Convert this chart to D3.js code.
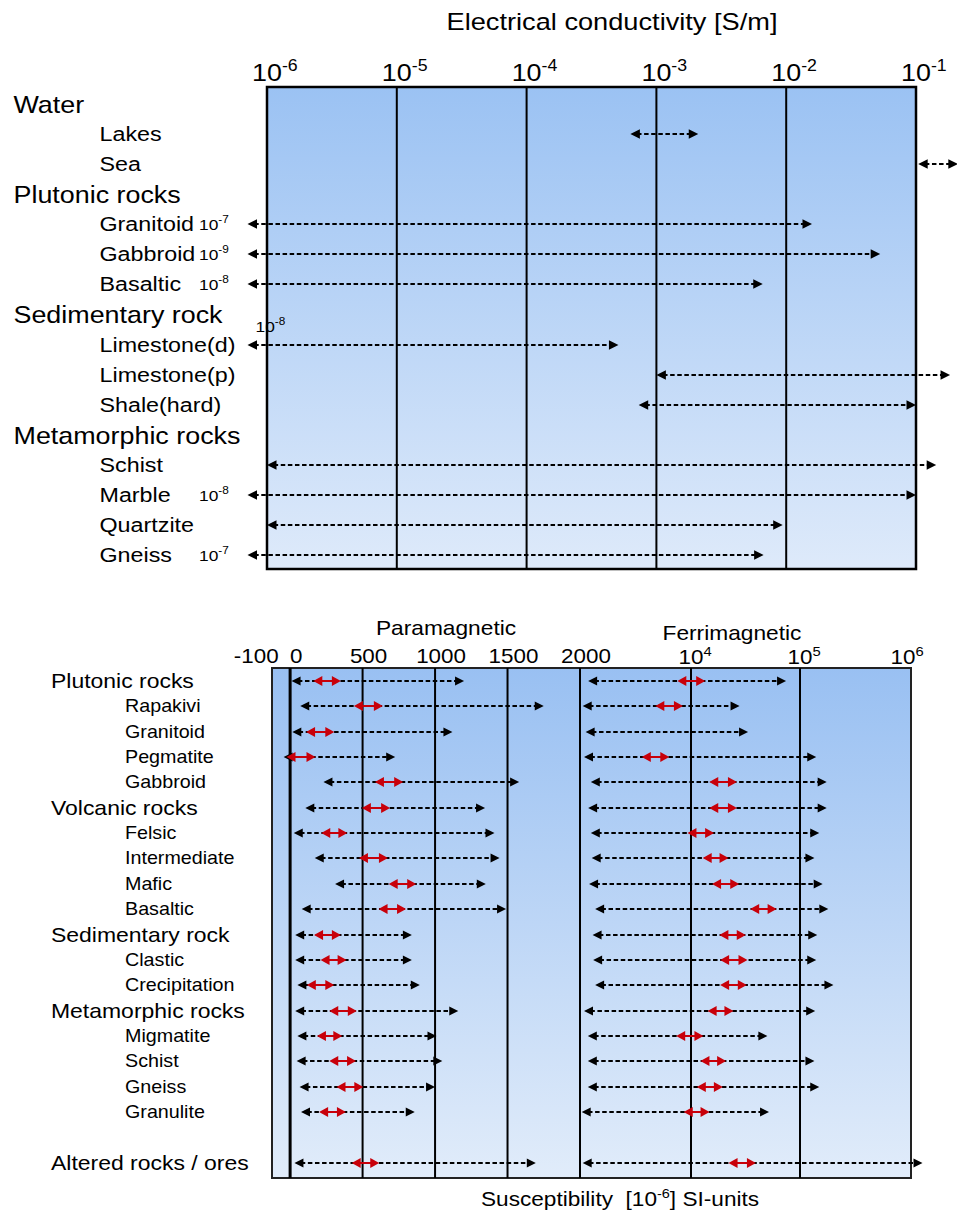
<!DOCTYPE html>
<html>
<head>
<meta charset="utf-8">
<script src="https://cdn.jsdelivr.net/npm/d3@7"></script>
<style>
  html, body { margin: 0; padding: 0; background: #fff; }
  svg { display: block; }
  text { font-family: "Liberation Sans", Arial, sans-serif; fill: #000; }
</style>
</head>
<body>
<svg id="chart" width="957" height="1213"></svg>
<script>
// ---------- Electrical conductivity [S/m] ----------
const condRows = ["Water", "Lakes", "Sea", "Plutonic rocks", "Granitoid", "Gabbroid", "Basaltic",
  "Sedimentary rock", "Limestone(d)", "Limestone(p)", "Shale(hard)", "Metamorphic rocks",
  "Schist", "Marble", "Quartzite", "Gneiss"];
const condHeaders = ["Water", "Plutonic rocks", "Sedimentary rock", "Metamorphic rocks"];
const condLow  = [null, 6.3e-4, 0.104, null, 1e-7, 1e-9, 1e-8, null, 1e-8, 1.0e-3, 7.3e-4, null, 1e-6, 1e-8, 1e-6, 1e-7];
const condHigh = [null, 2.1e-3, 0.21,  null, 0.0158, 0.053, 0.0066, null, 5.1e-4, 0.183, 0.1, null, 0.143, 0.1, 0.0094, 0.0067];
const condTickExp = [-6, -5, -4, -3, -2, -1];

// ---------- Magnetic susceptibility [10^-6 SI] ----------
const suscRows = ["Plutonic rocks", "Rapakivi", "Granitoid", "Pegmatite", "Gabbroid",
  "Volcanic rocks", "Felsic", "Intermediate", "Mafic", "Basaltic",
  "Sedimentary rock", "Clastic", "Crecipitation",
  "Metamorphic rocks", "Migmatite", "Schist", "Gneiss", "Granulite",
  "", "Altered rocks / ores"];
const suscHeaders = ["Plutonic rocks", "Volcanic rocks", "Sedimentary rock", "Metamorphic rocks", "Altered rocks / ores"];
// paramagnetic range (black) and typical range (red)
const paraLow      = [10, 70, 15, -45, 230, 105, 25, 170, 310, 80, 35, 35, 50, 35, 50, 45, 65, 75, null, 30];
const paraHigh     = [1200, 1750, 1120, 725, 1580, 1345, 1410, 1445, 1350, 1490, 840, 840, 895, 1160, 1010, 1050, 1000, 860, null, 1695];
const paraCoreLow  = [160, 440, 110, -25, 585, 495, 215, 475, 680, 610, 165, 210, 115, 270, 185, 270, 320, 200, null, 425];
const paraCoreHigh = [350, 640, 305, 175, 780, 690, 395, 675, 870, 800, 350, 390, 305, 460, 360, 455, 505, 385, null, 615];
// ferrimagnetic range (black) and typical range (red)
const ferriLow      = [2250, 2080, 2170, 2120, 2340, 2250, 2340, 2370, 2280, 2490, 2400, 2420, 2490, 2120, 2240, 2240, 2240, 2050, null, 2080];
const ferriHigh     = [74500, 27900, 33400, 140000, 174000, 174000, 149000, 135000, 160000, 180000, 143000, 140000, 200000, 137000, 50200, 135000, 149000, 52000, null, 1270000];
const ferriCoreLow  = [8200, 5960, null, 4900, 14700, 14700, 9500, 12800, 15600, 34900, 18200, 18500, 18500, 14200, 8070, 12200, 11300, 9000, null, 22100];
const ferriCoreHigh = [13500, 8900, null, 7300, 26400, 26400, 16300, 22100, 27700, 61000, 31800, 33000, 32500, 24500, 13000, 21000, 19600, 14800, null, 39400];
const linTicks = [-100, 0, 500, 1000, 1500, 2000];
const powTickExp = [4, 5, 6];

// ---------- drawing ----------
const SX = 1.12;            // horizontal text stretch
const svg = d3.select("#chart");
const defs = svg.append("defs");

function gradient(id, c0, c1) {
  const g = defs.append("linearGradient").attr("id", id)
    .attr("x1", 0).attr("y1", 0).attr("x2", 0).attr("y2", 1);
  g.append("stop").attr("offset", 0).attr("stop-color", c0);
  g.append("stop").attr("offset", 1).attr("stop-color", c1);
}
gradient("bgTop", "#9BC2F3", "#DEEAFA");
gradient("bgBot", "#99C0F2", "#E1ECFA");

// rich text: segments [{t, sup}]
function rich(g, x, y, segs, size, anchor, supScale) {
  const ss = supScale || 0.64;
  const t = g.append("text")
    .attr("transform", `translate(${x},${y}) scale(${SX},1)`)
    .attr("font-size", size)
    .attr("text-anchor", anchor || "start")
    .attr("xml:space", "preserve");
  let raised = false;
  segs.forEach(s => {
    const sp = t.append("tspan").text(s.t);
    if (s.sup && !raised) { sp.attr("font-size", size * ss).attr("dy", -size * 0.42); raised = true; }
    else if (!s.sup && raised) { sp.attr("dy", size * 0.42); raised = false; }
    else if (s.sup) sp.attr("font-size", size * ss);
  });
  return t;
}
function label(g, x, y, str, size, anchor) { return rich(g, x, y, [{ t: str }], size, anchor); }

// power of ten label with the "10" centred on x
function pow10(g, x, y, exp, size) {
  const baseW = 1.112 * size * SX;
  return rich(g, x - baseW / 2, y, [{ t: "10" }, { t: String(exp), sup: true }], size, "start", 0.66);
}

function arrow(g, x1, x2, y, color, dashed, len, w) {
  g.append("line")
    .attr("x1", x1 + len * 0.7).attr("x2", x2 - len * 0.7)
    .attr("y1", y).attr("y2", y)
    .attr("stroke", color).attr("stroke-width", 2)
    .attr("stroke-dasharray", dashed ? "4.5,2.6" : null);
  g.append("path").attr("d", `M${x1},${y}L${x1 + len},${y - w / 2}L${x1 + len},${y + w / 2}Z`).attr("fill", color);
  g.append("path").attr("d", `M${x2},${y}L${x2 - len},${y - w / 2}L${x2 - len},${y + w / 2}Z`).attr("fill", color);
}

// ===== Conductivity panel =====
const gTop = svg.append("g");
const xC = d3.scaleLog().domain([1e-6, 1e-1]).range([267, 916]);
const yC = d3.scaleLinear().domain([0, condRows.length - 1]).range([104, 555]);
const condFloor = Math.pow(10, -6.15);
const boxT = { y0: 87, y1: 569 };

label(gTop, 612, 30, "Electrical conductivity [S/m]", 24.3, "middle");

gTop.append("rect")
  .attr("x", xC(1e-6)).attr("y", boxT.y0)
  .attr("width", xC(1e-1) - xC(1e-6)).attr("height", boxT.y1 - boxT.y0)
  .attr("fill", "url(#bgTop)").attr("stroke", "#000").attr("stroke-width", 2.5);

condTickExp.forEach(e => {
  const x = xC(Math.pow(10, e));
  if (e > -6 && e < -1) {
    gTop.append("line").attr("x1", x).attr("x2", x).attr("y1", boxT.y0).attr("y2", boxT.y1)
      .attr("stroke", "#000").attr("stroke-width", 2);
  }
  pow10(gTop, x, 81, e, 24);
});

condRows.forEach((name, i) => {
  const y = Math.round(yC(i));
  const isHead = condHeaders.includes(name);
  const size = isHead ? 24 : 20.8;
  const lx = isHead ? 13.5 : 99.5;
  const t = label(gTop, lx, y + size * 0.36, name, size);
  if (condLow[i] == null) return;
  const lo = condLow[i], hi = condHigh[i];
  const x1 = xC(Math.max(lo, condFloor)), x2 = xC(hi);
  arrow(gTop, x1, x2, y, "#000", true, 9.5, 9.5);
  if (lo < 1e-6) {
    const exp = Math.round(Math.log10(lo));
    const textEnd = lx + t.node().getComputedTextLength() * SX;
    const segs = [{ t: "10" }, { t: String(exp), sup: true }];
    if (textEnd > 215) rich(gTop, x1 + 8, y - 13, segs, 15.5, "start", 0.68);
    else rich(gTop, 199, y + 6, segs, 15.5, "start", 0.68);
  }
});

// ===== Susceptibility panel =====
const gBot = svg.append("g");
const xLin = d3.scaleLinear().domain([-125, 2000]).range([272, 580]);
const xLogPart = d3.scaleLinear().domain([Math.log10(2000), 4, 5, 6]).range([580, 691, 800, 911]);
const xS = v => (v <= 2000 ? xLin(v) : xLogPart(Math.log10(v)));
const yS = d3.scaleLinear().domain([0, suscRows.length - 1]).range([681, 1162.7]);
const boxB = { y0: 668, y1: 1178 };

label(gBot, 446, 635, "Paramagnetic", 20.3, "middle");
label(gBot, 732, 640, "Ferrimagnetic", 20.3, "middle");

gBot.append("rect")
  .attr("x", xLin(-125)).attr("y", boxB.y0)
  .attr("width", xS(1e6) - xLin(-125)).attr("height", boxB.y1 - boxB.y0)
  .attr("fill", "url(#bgBot)").attr("stroke", "#222").attr("stroke-width", 2);

[0, 500, 1000, 1500, 2000, 1e4, 1e5].forEach(v => {
  const x = xS(v);
  gBot.append("line").attr("x1", x).attr("x2", x).attr("y1", boxB.y0).attr("y2", boxB.y1)
    .attr("stroke", "#000").attr("stroke-width", v === 0 ? 3 : 2);
});

linTicks.forEach(v => {
  if (v < 0) label(gBot, xS(v) + 3, 663, String(v), 20, "end");
  else label(gBot, xS(v) + 6, 663, String(v), 20, "middle");
});
powTickExp.forEach(e => {
  const v = Math.pow(10, e);
  pow10(gBot, xS(v) + (e === 6 ? -8 : 0), 664, e, 20);
});

rich(gBot, 481, 1206, [{ t: "Susceptibility\u00A0\u00A0[10" }, { t: "-6", sup: true }, { t: "] SI-units" }], 20.2, "start");

suscRows.forEach((name, i) => {
  if (!name) return;
  const y = Math.round(yS(i));
  const isHead = suscHeaders.includes(name);
  const size = isHead ? 20.5 : 17.6;
  label(gBot, isHead ? 51 : 125, y + size * 0.36, name, size);
  if (paraLow[i] != null) arrow(gBot, xS(paraLow[i]), xS(paraHigh[i]), y, "#000", true, 9, 9);
  if (ferriLow[i] != null) arrow(gBot, xS(ferriLow[i]), xS(ferriHigh[i]), y, "#000", true, 9, 9);
  if (paraCoreLow[i] != null) arrow(gBot, xS(paraCoreLow[i]), xS(paraCoreHigh[i]), y, "#C8000A", false, 9, 10);
  if (ferriCoreLow[i] != null) arrow(gBot, xS(ferriCoreLow[i]), xS(ferriCoreHigh[i]), y, "#C8000A", false, 9, 10);
});
</script>
</body>
</html>
